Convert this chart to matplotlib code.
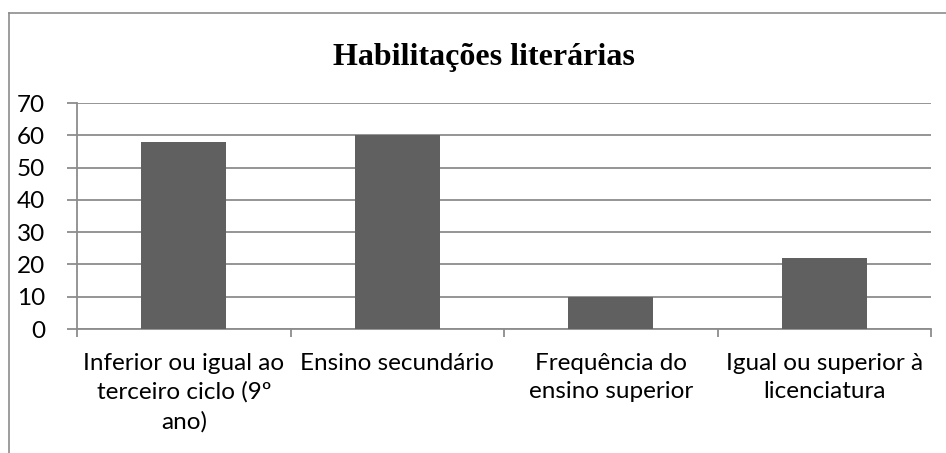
import numpy as np
from matplotlib import pyplot as plt
from matplotlib.lines import Line2D

categories = ["Inferior ou igual ao\nterceiro ciclo (9º\nano)",
              "Ensino secundário",
              "Frequência do\nensino superior",
              "Igual ou superior à\nlicenciatura"]
values = [58, 60, 10, 22]
yticks = [0, 10, 20, 30, 40, 50, 60, 70]

W, H = 946, 453
fig = plt.figure(figsize=(W / 100, H / 100), dpi=100)
ax = fig.add_axes([77 / W, 1 - 329 / H, (931 - 77) / W, (329 - 103) / H])

grey = '#8c8c8c'
x = np.arange(len(values))
ax.bar(x, values, width=0.4, color='#606060', zorder=3)

ax.set_xlim(-0.5, len(values) - 0.5)
ax.set_ylim(0, 70)
ax.set_yticks(yticks)
ax.yaxis.grid(True, color=grey, linewidth=1.3)
ax.set_axisbelow(True)

ax.set_xticks(x)
ax.set_xticklabels(categories, fontsize=17.5, family='Lato', linespacing=1.45)
ax.set_xticks(np.arange(len(values) + 1) - 0.5, minor=True)
ax.tick_params(axis='x', which='major', length=0, pad=17)
ax.tick_params(axis='x', which='minor', length=6, color=grey, width=1.3)
ax.tick_params(axis='y', length=7, color=grey, width=1.3, pad=16)
for lab in ax.get_yticklabels():
    lab.set_fontsize(17.5)
    lab.set_family('Lato')

for s in ['top', 'right']:
    ax.spines[s].set_visible(False)
for s in ['left', 'bottom']:
    ax.spines[s].set_color(grey)
    ax.spines[s].set_linewidth(1.3)

fig.text(484 / W, 1 - 58 / H, "Habilitações literárias", ha='center', va='center',
         fontsize=23, fontweight='bold', family='Liberation Serif')

# outer chart frame (left and top edges visible)
fig.add_artist(Line2D([8.5 / W, 8.5 / W], [0, 1 - 13 / H], transform=fig.transFigure,
                      color=grey, linewidth=1.2))
fig.add_artist(Line2D([8.5 / W, 1], [1 - 13 / H, 1 - 13 / H], transform=fig.transFigure,
                      color=grey, linewidth=1.2))

fig.savefig('out.png', dpi=100)
